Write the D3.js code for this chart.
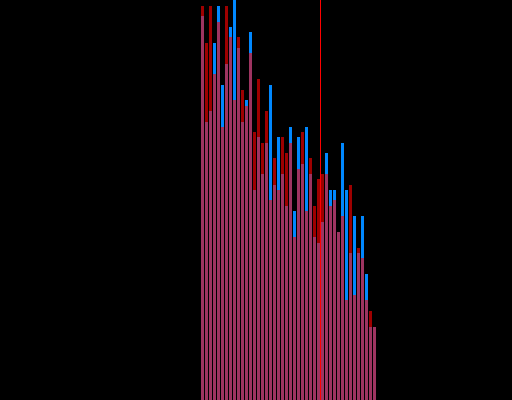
<!DOCTYPE html>
<html>
<head>
<meta charset="utf-8">
<script src="https://cdn.jsdelivr.net/npm/d3@7"></script>
<style>
  html, body { margin: 0; padding: 0; background: #000; }
  svg { display: block; }
</style>
</head>
<body>
<script>
// Bin indices (0..43)
const bins = d3.range(44);
// Red series (drawn on top, semi-transparent)
const redValues = [394, 357, 394, 326, 378, 273, 394, 363, 300, 363, 310, 294, 347, 268, 321, 257, 289, 200, 242, 210, 263, 247, 257, 163, 231, 268, 189, 242, 194, 221, 226, 226, 194, 200, 168, 184, 100, 215, 105, 152, 142, 100, 89, 73];
// Blue series (drawn underneath, opaque)
const blueValues = [384, 278, 289, 357, 394, 315, 336, 373, 400, 352, 278, 300, 368, 210, 263, 226, 257, 315, 215, 263, 226, 194, 273, 189, 263, 236, 273, 226, 163, 157, 178, 247, 210, 210, 168, 257, 210, 147, 184, 147, 184, 126, 73, 73];
// Marker position (in bin units)
const markerValue = 29.75;

const W = 512, H = 400;
const svg = d3.select("body").append("svg").attr("width", W).attr("height", H);
svg.append("rect").attr("width", W).attr("height", H).attr("fill", "#000");

const x = d3.scaleLinear().domain([0, 44]).range([201, 377]);
const y = d3.scaleLinear().domain([0, 400]).range([400, 0]);
const bw = x(1) - x(0) - 1;

svg.append("g").selectAll("rect").data(bins).join("rect")
  .attr("x", d => x(d)).attr("width", bw)
  .attr("y", d => y(blueValues[d])).attr("height", d => y(0) - y(blueValues[d]))
  .attr("fill", "#0088ff");

svg.append("g").selectAll("rect").data(bins).join("rect")
  .attr("x", d => x(d)).attr("width", bw)
  .attr("y", d => y(redValues[d])).attr("height", d => y(0) - y(redValues[d]))
  .attr("fill", "#ff0000").attr("fill-opacity", 0.62);

svg.append("line")
  .attr("x1", x(markerValue) + 0.5).attr("x2", x(markerValue) + 0.5)
  .attr("y1", 0).attr("y2", H)
  .attr("stroke", "#ff0000").attr("stroke-width", 1);
</script>
</body>
</html>
